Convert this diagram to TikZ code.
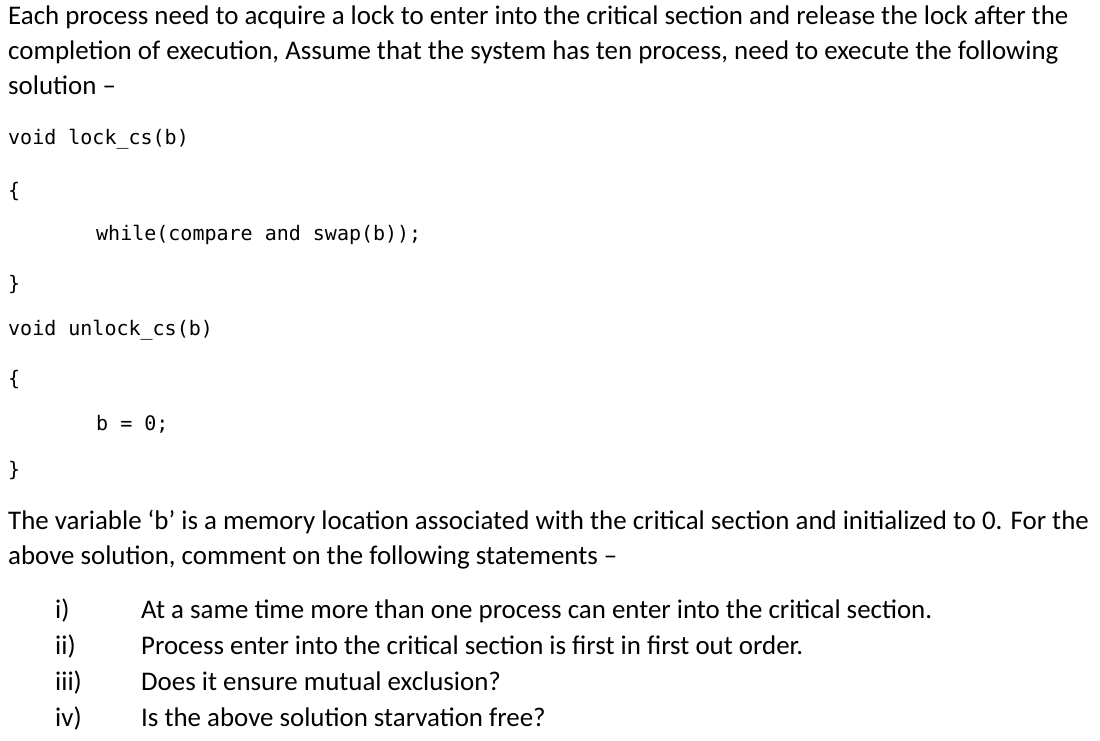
\documentclass[tikz,border=0pt]{standalone}
\usepackage{fontspec}
\setmainfont{Carlito}
\setmonofont{DejaVu Sans Mono}
\tikzset{
  txt/.style={anchor=base west, inner sep=0pt, font=\fontsize{26.9}{30}\selectfont},
  code/.style={anchor=base west, inner sep=0pt, font=\fontsize{20}{24}\selectfont\ttfamily},
}
\begin{document}
\begin{tikzpicture}[x=1pt,y=1pt]
\useasboundingbox[fill=white] (0,0) rectangle (1100,-741);
% question
\node[txt] (q1) at (8,-25) {Each process need to acquire a lock to enter into the critical section and release the lock after the};
\node[txt] (q2) at (8,-60) {completion of execution, Assume that the system has ten process, need to execute the following};
\node[txt] (q3) at (8,-95) {solution --};
% code
\node[code] (c1) at (8,-145) {void lock\_cs(b)};
\node[code] (c2) at (8,-197) {\{};
\node[code] (c3) at (96,-240) {while(compare and swap(b));};
\node[code] (c4) at (8,-290) {\}};
\node[code] (c5) at (8,-335) {void unlock\_cs(b)};
\node[code] (c6) at (8,-385) {\{};
\node[code] (c7) at (96,-430) {b = 0;};
\node[code] (c8) at (8,-476) {\}};
% statements
\node[txt] (s1) at (8,-529) {The variable ‘b’ is a memory location associated with the critical section and initialized to 0. For the};
\node[txt] (s2) at (8,-564) {above solution, comment on the following statements --};
\foreach \n/\lbl/\t [count=\k] in {i/i)/At a same time more than one process can enter into the critical section.,
  ii/ii)/Process enter into the critical section is first in first out order.,
  iii/iii)/Does it ensure mutual exclusion?,
  iv/iv)/Is the above solution starvation free?}{
  \node[txt] (n\n) at (55,-582-36*\k) {\lbl};
  \node[txt] (t\n) at (141,-582-36*\k) {\t};
}
\end{tikzpicture}
\end{document}
